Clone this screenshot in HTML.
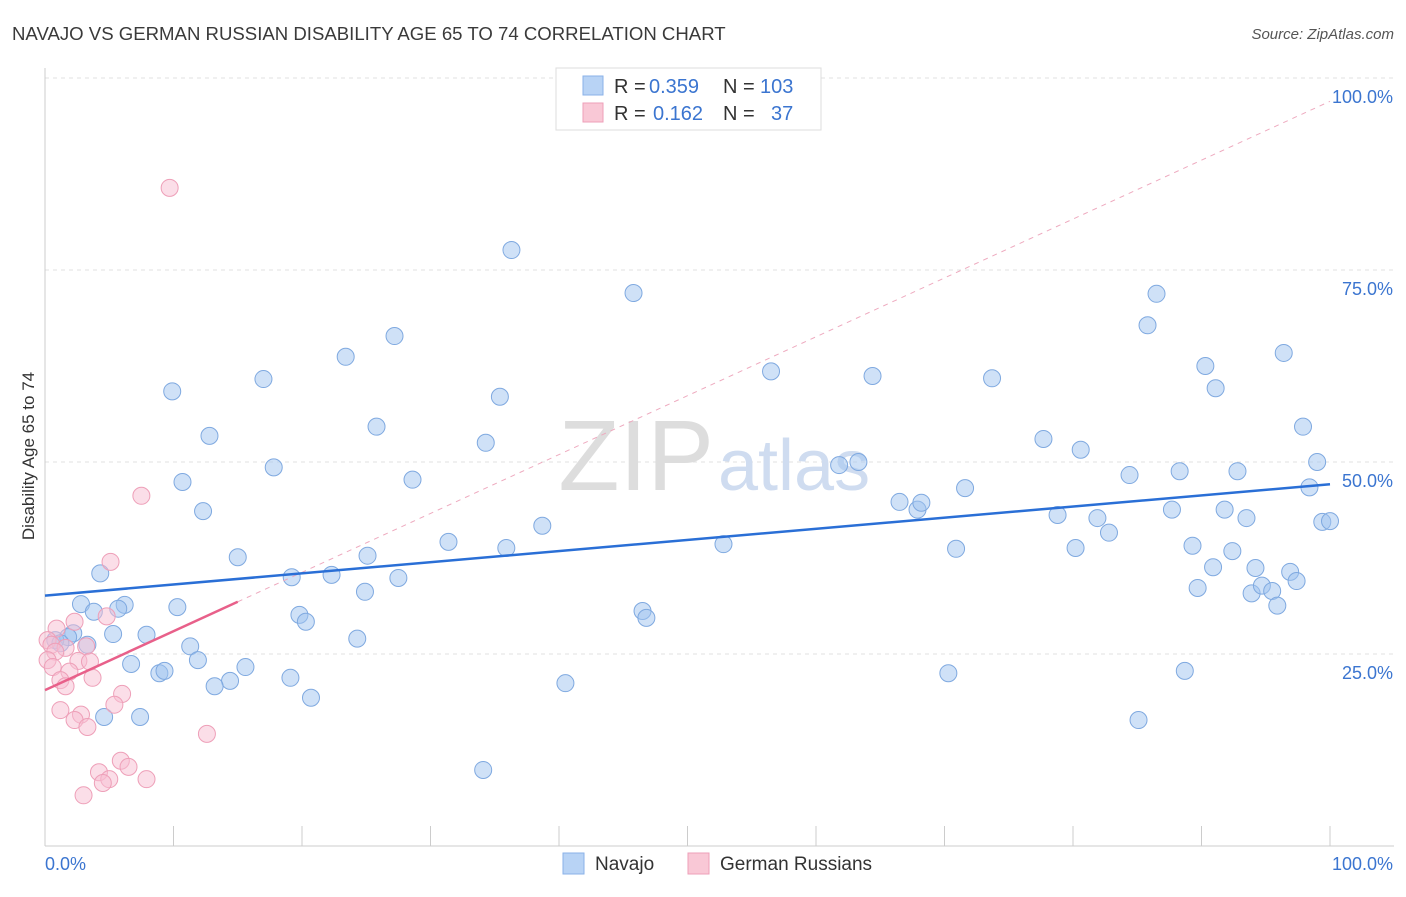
<!DOCTYPE html>
<html><head><meta charset="utf-8"><style>
body{margin:0;background:#fff;font-family:"Liberation Sans",sans-serif;}
svg text{font-family:"Liberation Sans",sans-serif;}
</style></head><body>
<svg id="chart" width="1406" height="892">
<text x="12" y="40" font-size="18.6" fill="#3a3a3a">NAVAJO VS GERMAN RUSSIAN DISABILITY AGE 65 TO 74 CORRELATION CHART</text>
<text x="1394" y="39" font-size="15" fill="#555" font-style="italic" text-anchor="end">Source: ZipAtlas.com</text>
<text x="34" y="456" font-size="17" fill="#333" text-anchor="middle" transform="rotate(-90 34 456)">Disability Age 65 to 74</text>
<g id="grid"></g>
<text x="714" y="490" font-size="100" fill="#ddd" font-family="Liberation Serif" text-anchor="end">ZIP</text>
<text x="718" y="490" font-size="72" fill="#cfdcf0">atlas</text>
<g id="marks"></g>
<g>
<rect x="556" y="68" width="265" height="62" fill="#fff" stroke="#ddd"/>
<rect x="583" y="76" width="20" height="19" fill="#b8d3f5" stroke="#8ab2e8"/>
<rect x="583" y="103" width="20" height="19" fill="#f9c8d6" stroke="#ee9fb8"/>
<text x="614" y="93" font-size="20" fill="#333">R =</text>
<text x="649" y="93" font-size="20" fill="#3b75d0">0.359</text>
<text x="723" y="93" font-size="20" fill="#333">N =</text>
<text x="760" y="93" font-size="20" fill="#3b75d0">103</text>
<text x="614" y="120" font-size="20" fill="#333">R =</text>
<text x="653" y="120" font-size="20" fill="#3b75d0">0.162</text>
<text x="723" y="120" font-size="20" fill="#333">N =</text>
<text x="771" y="120" font-size="20" fill="#3b75d0">37</text>
</g>
<g>
<rect x="563" y="853" width="21" height="21" fill="#b8d3f5" stroke="#8ab2e8"/>
<text x="595" y="870" font-size="19" fill="#333">Navajo</text>
<rect x="688" y="853" width="21" height="21" fill="#f9c8d6" stroke="#ee9fb8"/>
<text x="720" y="870" font-size="19" fill="#333">German Russians</text>
</g>
</svg>
<script>
const navajoX=[36.3,45.8,27.2,23.4,17.0,9.9,35.4,25.8,12.8,34.3,17.8,10.7,28.6,12.3,38.7,31.4,35.9,25.1,15.0,4.3,19.2,22.3,27.5,24.9,2.8,6.2,5.7,3.8,10.3,19.8,20.3,7.9,5.3,2.2,1.8,0.8,1.2,3.3,11.3,24.3,11.9,6.7,15.6,8.9,9.3,14.4,13.2,19.1,20.7,7.4,4.6,40.5,34.1,46.5,46.8,52.8,56.5,61.8,63.3,64.4,66.5,67.9,68.2,71.6,70.9,70.3,73.7,77.7,78.8,80.2,80.6,81.9,82.8,84.4,85.1,85.8,86.5,87.7,88.3,88.7,89.3,89.7,90.3,90.9,91.1,91.8,92.4,92.8,93.5,94.2,93.9,94.7,95.5,95.9,96.4,96.9,97.4,97.9,98.4,99.0,99.4,100];
const navajoY=[77.6,72.0,66.4,63.7,60.8,59.2,58.5,54.6,53.4,52.5,49.3,47.4,47.7,43.6,41.7,39.6,38.8,37.8,37.6,35.5,35.0,35.3,34.9,33.1,31.5,31.4,30.9,30.5,31.1,30.1,29.2,27.5,27.6,27.7,27.2,26.8,26.4,26.2,26.0,27.0,24.2,23.7,23.3,22.5,22.8,21.5,20.8,21.9,19.3,16.8,16.8,21.2,9.9,30.6,29.7,39.3,61.8,49.6,50.0,61.2,44.8,43.8,44.7,46.6,38.7,22.5,60.9,53.0,43.1,38.8,51.6,42.7,40.8,48.3,16.4,67.8,71.9,43.8,48.8,22.8,39.1,33.6,62.5,36.3,59.6,43.8,38.4,48.8,42.7,36.2,32.9,33.9,33.2,31.3,64.2,35.7,34.5,54.6,46.7,50.0,42.2,42.3];
const grX=[9.7,7.5,5.1,4.8,2.3,0.9,0.2,0.5,1.6,0.8,3.2,0.2,2.6,3.5,0.6,1.9,1.2,3.7,1.6,6.0,5.4,1.2,2.8,2.3,3.3,12.6,5.9,6.5,4.2,5.0,4.5,7.9,3.0];
const grY=[85.7,45.6,37.0,29.9,29.2,28.3,26.8,26.2,25.8,25.3,26.0,24.2,24.1,24.0,23.3,22.7,21.6,21.9,20.8,19.8,18.4,17.7,17.1,16.4,15.5,14.6,11.1,10.3,9.6,8.7,8.2,8.7,6.6];
const navajoTrend=[32.6,47.1];
const grTrend=[20.3,31.8,15];
const yTicks=[25,50,75,100];
const yTickLabels=["25.0%","50.0%","75.0%","100.0%"];
const xTicks=[0,10,20,30,40,50,60,70,80,90,100];
const xs=v=>45+v*12.85, ys=v=>846-v*7.68;
const NS="http://www.w3.org/2000/svg";
function mk(t,a,p){const e=document.createElementNS(NS,t);for(const k in a)e.setAttribute(k,a[k]);p.appendChild(e);return e;}
const g=document.getElementById('grid'),m=document.getElementById('marks');
yTicks.forEach((v,i)=>{
 const l=mk('line',{x1:45,x2:1394,y1:ys(v),y2:ys(v),stroke:'#e0e0e0','stroke-dasharray':'4 4'},g);
 
 
 const t=mk('text',{x:1393,y:ys(v)+25,'font-size':18,fill:'#3b75d0','text-anchor':'end'},g);
 t.textContent=yTickLabels[i];
 
 
});
const ax=mk('line',{x1:45,x2:1394,y1:846,y2:846,stroke:'#ccc'},g);


const ay=mk('line',{x1:45,x2:45,y1:68,y2:846,stroke:'#ccc'},g);


xTicks.forEach(v=>{const l=mk('line',{x1:xs(v),x2:xs(v),y1:826,y2:846,stroke:'#ccc'},g);
 
 });
[[0,'0.0%','start',45],[100,'100.0%','end',1393]].forEach(a=>{const t=mk('text',{x:a[3],y:870,'font-size':18,fill:'#3b75d0','text-anchor':a[2]},g);t.textContent=a[1];
 
 });
navajoX.forEach((x,i)=>{const c=mk('circle',{cx:xs(x),cy:ys(navajoY[i]),r:8.5,fill:'rgba(160,196,240,0.5)',stroke:'#7fa9e0','stroke-width':1},m);
 
 });
grX.forEach((x,i)=>{const c=mk('circle',{cx:xs(x),cy:ys(grY[i]),r:8.5,fill:'rgba(248,190,210,0.5)',stroke:'#ee9fb8','stroke-width':1},m);
 
 });
const slope=(grTrend[1]-grTrend[0])/grTrend[2];
const d=mk('line',{x1:xs(grTrend[2]),y1:ys(grTrend[1]),x2:xs(100),y2:ys(grTrend[0]+slope*100),stroke:'#eeaabf','stroke-dasharray':'5 5','stroke-width':1},m);


const p=mk('line',{x1:xs(0),y1:ys(grTrend[0]),x2:xs(grTrend[2]),y2:ys(grTrend[1]),stroke:'#e8608a','stroke-width':2.5},m);


const b=mk('line',{x1:xs(0),y1:ys(navajoTrend[0]),x2:xs(100),y2:ys(navajoTrend[1]),stroke:'#2a6fd6','stroke-width':2.5},m);


</script>
</body></html>
